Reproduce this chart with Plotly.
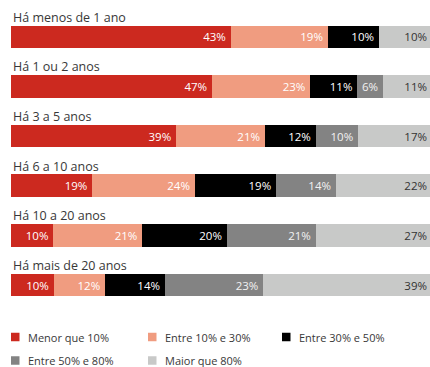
import plotly.graph_objects as go

# Time since the event, one horizontal bar each (top to bottom)
periods = ["Há menos de 1 ano", "Há 1 ou 2 anos", "Há 3 a 5 anos",
           "Há 6 a 10 anos", "Há 10 a 20 anos", "Há mais de 20 anos"]

# Share bands (stack order, left to right)
bands = ["Menor que 10%", "Entre 10% e 30%", "Entre 30% e 50%",
         "Entre 50% e 80%", "Maior que 80%"]

# Percentages per period for each band
menor_10 = [43, 47, 39, 19, 10, 10]
entre_10_30 = [19, 23, 21, 24, 21, 12]
entre_30_50 = [10, 11, 12, 19, 20, 14]
entre_50_80 = [None, 6, 10, 14, 21, 23]
maior_80 = [10, 11, 17, 22, 27, 39]

series = [menor_10, entre_10_30, entre_30_50, entre_50_80, maior_80]
colors = ["#cc291f", "#f09c80", "#000000", "#838383", "#c8c9c8"]
text_colors = ["#ffffff", "#ffffff", "#ffffff", "#f2f2f2", "#333333"]

FONT = "'Open Sans', Lato, sans-serif"
W, H = 430, 367
ML, MR, MT, MB = 11, 0, 12, 52
PW, PH = W - ML - MR, H - MT - MB


def px_x(x):
    return (x - ML) / PW


def px_y(y):
    return (H - MB - y) / PH


fig = go.Figure()
for i, (name, vals) in enumerate(zip(bands, series)):
    last = i == len(series) - 1
    pad = "" if last else "\u2009"
    fig.add_trace(go.Bar(
        name=name,
        y=periods,
        x=vals,
        orientation="h",
        marker=dict(color=colors[i], line=dict(width=0)),
        text=[f"{v}%{pad}" if v else "" for v in vals],
        textposition="inside",
        insidetextanchor="end",
        textangle=0,
        insidetextfont=dict(family=FONT, size=11.5, color=text_colors[i]),
        showlegend=False,
        hoverinfo="skip",
    ))

annotations = []
# Period titles above each bar
for p in periods:
    annotations.append(dict(
        x=0, xref="paper", y=p, yref="y", xanchor="left", yanchor="middle",
        yshift=19.5, text=p, showarrow=False,
        font=dict(family=FONT, size=12.5, color="#383838"),
    ))

# Legend: coloured squares with band names, three per row
shapes = []
legend_cols = [11, 148, 282]
legend_rows = [337, 360.5]
sq = 8.5
for i, (name, col) in enumerate(zip(bands, colors)):
    lx = legend_cols[i % 3]
    ly = legend_rows[i // 3]
    shapes.append(dict(
        type="rect", xref="paper", yref="paper",
        x0=px_x(lx), x1=px_x(lx + sq),
        y0=px_y(ly + sq / 2), y1=px_y(ly - sq / 2),
        fillcolor=col, line=dict(width=0),
    ))
    annotations.append(dict(
        x=px_x(lx + 15), xref="paper", y=px_y(ly), yref="paper",
        xanchor="left", yanchor="middle", text=name, showarrow=False,
        font=dict(family=FONT, size=11, color="#383838"),
    ))

fig.update_layout(
    width=W, height=H,
    margin=dict(l=ML, r=MR, t=MT, b=MB, pad=0),
    barmode="stack",
    barnorm="percent",
    bargap=0.544,
    plot_bgcolor="#ffffff",
    paper_bgcolor="#ffffff",
    xaxis=dict(range=[0, 100], visible=False, fixedrange=True),
    yaxis=dict(autorange="reversed", visible=False, fixedrange=True),
    annotations=annotations,
    shapes=shapes,
    uniformtext=dict(minsize=8, mode="show"),
)

fig.write_html("out.html")
